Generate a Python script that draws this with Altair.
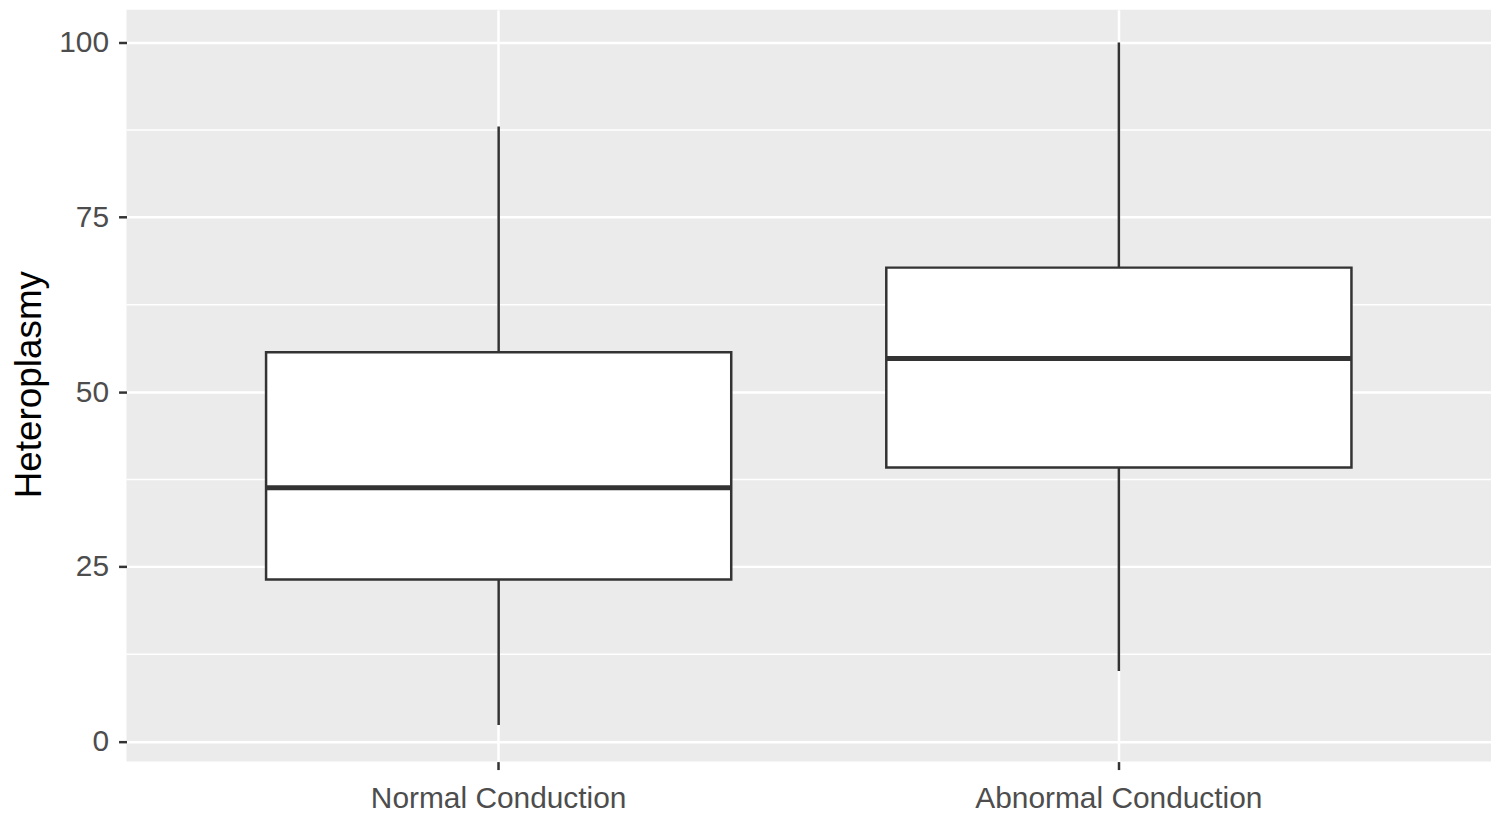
import pandas as pd
import altair as alt

# values
groups = ['Normal Conduction', 'Abnormal Conduction']
whisker_low = [2.4, 10.1]
q1 = [23.2, 39.2]
median = [36.3, 54.8]
q3 = [55.7, 67.8]
whisker_high = [88.0, 100.0]

major_ticks = [0, 25, 50, 75, 100]
minor_ticks = [12.5, 37.5, 62.5, 87.5]

df = pd.DataFrame({
    'group': groups,
    'low': whisker_low,
    'q1': q1,
    'median': median,
    'q3': q3,
    'high': whisker_high,
})
minor_df = pd.DataFrame({'y': minor_ticks})

y_scale = alt.Scale(domain=[-2.85, 104.7], nice=False, zero=False)
x_scale = alt.Scale(domain=groups, paddingInner=0.25, paddingOuter=0.225)

x_enc = alt.X('group:N', scale=x_scale, sort=groups,
              axis=alt.Axis(title=None, grid=True, gridColor='white', gridWidth=2.5,
                            bandPosition=0.5, labelAngle=0, labelPadding=14,
                            labelLimit=0))
y_axis = alt.Axis(values=major_ticks, title='Heteroplasmy', grid=True,
                  gridColor='white', gridWidth=2.5, labelPadding=10,
                  titleX=-97, titleY=376, titleAngle=-90, titleAlign='center',
                  titleBaseline='middle')

minor_grid = alt.Chart(minor_df).mark_rule(color='white', strokeWidth=1.5).encode(
    y=alt.Y('y:Q', scale=y_scale, axis=y_axis)
)

whiskers = alt.Chart(df).mark_rule(color='#333333', strokeWidth=2.5).encode(
    x=x_enc,
    y=alt.Y('low:Q', scale=y_scale),
    y2='high:Q'
)

boxes = alt.Chart(df).mark_bar(fill='white', stroke='#333333', strokeWidth=2.5).encode(
    x=x_enc,
    y=alt.Y('q1:Q', scale=y_scale),
    y2='q3:Q'
)

medians = alt.Chart(df).mark_tick(color='#333333', size=466, thickness=5, opacity=1).encode(
    x=x_enc,
    y=alt.Y('median:Q', scale=y_scale)
)

chart = alt.layer(minor_grid, whiskers, boxes, medians).properties(
    width=1370,
    height=755,
    padding={'left': 119, 'top': 0, 'right': 0, 'bottom': 55},
    autosize=alt.AutoSizeParams(type='none')
).configure_view(
    fill='#EBEBEB',
    strokeWidth=0
).configure_axis(
    domain=False,
    tickColor='#333333',
    tickWidth=2.5,
    tickSize=8,
    labelColor='#4D4D4D',
    labelFont='Liberation Sans',
    labelFontSize=30,
    titleFont='Liberation Sans',
    titleFontSize=37,
    titleFontWeight='normal',
    titleColor='black'
)

chart.save('out.html', embed_options={'renderer': 'svg', 'actions': False})
